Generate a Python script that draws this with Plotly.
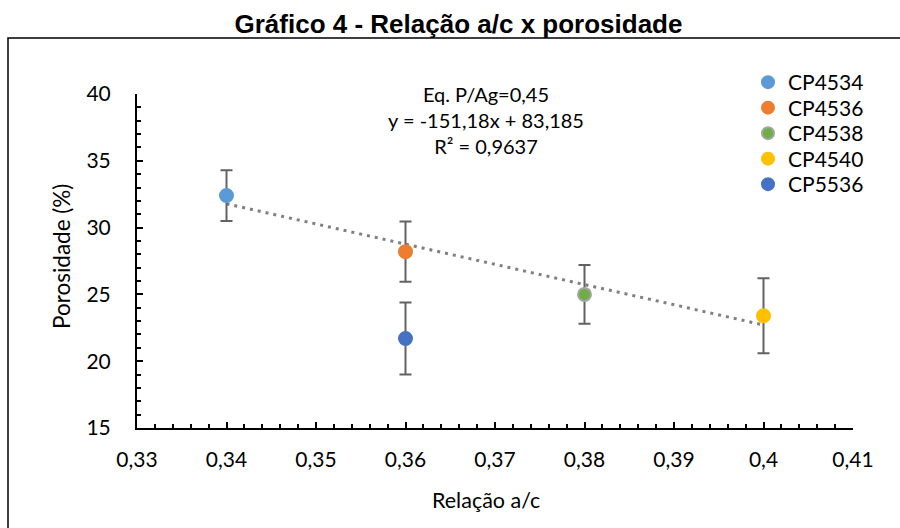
import plotly.graph_objects as go

# ---- data ----
series_names = ["CP4534", "CP4536", "CP4538", "CP4540", "CP5536"]
ac_ratio = [0.34, 0.36, 0.38, 0.40, 0.36]
porosity = [32.4, 28.2, 25.0, 23.4, 21.7]
porosity_err = [1.9, 2.25, 2.2, 2.8, 2.7]
series_colors = ["#5B9BD5", "#ED7D31", "#70AD47", "#FFC000", "#4472C4"]
series_outline = ["#5B9BD5", "#ED7D31", "#A5A5A5", "#FFC000", "#4472C4"]

trend_slope = -151.18
trend_intercept = 83.185
trend_x = [0.34, 0.40]

x_tickvals = [0.33, 0.34, 0.35, 0.36, 0.37, 0.38, 0.39, 0.40, 0.41]
x_ticktext = ["0,33", "0,34", "0,35", "0,36", "0,37", "0,38", "0,39", "0,4", "0,41"]
y_tickvals = [15, 20, 25, 30, 35, 40]

W, H = 900, 528
ml, mr, mt, mb = 137, 47, 94, 100
pw, ph = W - ml - mr, H - mt - mb

def px(xp):
    return (xp - ml) / pw

def py(yp):
    return 1 + (mt - yp) / ph

font_main = "Lato, Calibri, 'Open Sans', sans-serif"
legend_rows = [82.5, 108, 133.5, 159, 184.5]

fig = go.Figure()

# trendline
fig.add_trace(go.Scatter(
    x=trend_x, y=[trend_slope * v + trend_intercept for v in trend_x],
    mode="lines", line=dict(color="#808080", width=3, dash="3px,5px"),
    showlegend=False, hoverinfo="skip"))

legend_layouts = {}
for i, (name, xv, yv, ev, c, oc) in enumerate(zip(series_names, ac_ratio, porosity, porosity_err,
                                                   series_colors, series_outline)):
    lname = "legend" if i == 0 else f"legend{i + 1}"
    fig.add_trace(go.Scatter(
        x=[xv], y=[yv], name=name, mode="markers", legend=lname,
        marker=dict(color=c, size=13, line=dict(color=oc, width=2)),
        error_y=dict(type="data", array=[ev], visible=True, color="#626262",
                     thickness=2, width=6)))
    legend_layouts[lname] = dict(
        x=px(748), y=py(legend_rows[i]), xanchor="left", yanchor="middle",
        font=dict(family=font_main, size=21, color="#000"),
        bgcolor="rgba(0,0,0,0)", itemsizing="constant")

fig.update_layout(
    width=W, height=H,
    margin=dict(l=ml, r=mr, t=mt, b=mb, autoexpand=False),
    paper_bgcolor="white", plot_bgcolor="white",
    font=dict(family=font_main, size=21, color="#000000"),
    title=dict(text="<b>Gráfico 4 - Relação a/c x porosidade</b>",
               x=458.5 / W, xanchor="center", y=1 - 23.5 / H, yanchor="middle",
               font=dict(family="Liberation Sans, Arial, sans-serif", size=26, color="#000")),
    showlegend=True,
    xaxis=dict(range=[0.33, 0.41], tickvals=x_tickvals, ticktext=x_ticktext,
               automargin=False,
               showgrid=False, zeroline=False, showline=True, linecolor="#000", linewidth=2,
               ticks="inside", ticklen=6, tickwidth=2, tickcolor="#000",
               ticklabelstandoff=12,
               minor=dict(dtick=0.002, tick0=0.33, ticks="inside", ticklen=4, tickwidth=1.5,
                          tickcolor="#000", showgrid=False),
               tickfont=dict(size=21)),
    yaxis=dict(range=[15, 40], tickvals=y_tickvals,
               automargin=False,
               showgrid=False, zeroline=False, showline=True, linecolor="#000", linewidth=2,
               ticks="inside", ticklen=6, tickwidth=2, tickcolor="#000",
               ticklabelstandoff=20,
               minor=dict(dtick=1, tick0=15, ticks="inside", ticklen=4, tickwidth=1.5,
                          tickcolor="#000", showgrid=False),
               tickfont=dict(size=21)),
    annotations=[
        dict(text="Eq. P/Ag=0,45<br>y = -151,18x + 83,185<br>R² = 0,9637",
             xref="paper", yref="paper", x=px(486), y=py(80), xanchor="center", yanchor="top",
             showarrow=False, align="center", font=dict(family=font_main, size=20, color="#000")),
        dict(text="Relação a/c", xref="paper", yref="paper", x=px(486), y=py(500),
             xanchor="center", yanchor="middle", showarrow=False,
             font=dict(family=font_main, size=21.5, color="#000")),
        dict(text="Porosidade (%)", xref="paper", yref="paper", x=px(61), y=py(257),
             xanchor="center", yanchor="middle", textangle=-90, showarrow=False,
             font=dict(family=font_main, size=22.5, color="#000")),
    ],
    shapes=[dict(type="rect", xref="paper", yref="paper",
                 x0=px(8), x1=px(910), y0=py(540), y1=py(38),
                 line=dict(color="#000", width=1.5), fillcolor="rgba(0,0,0,0)", layer="below")],
    **legend_layouts,
)

fig.write_html("out.html", config={"displayModeBar": False},
               post_script="document.body.style.margin='0';document.body.style.padding='0';")
